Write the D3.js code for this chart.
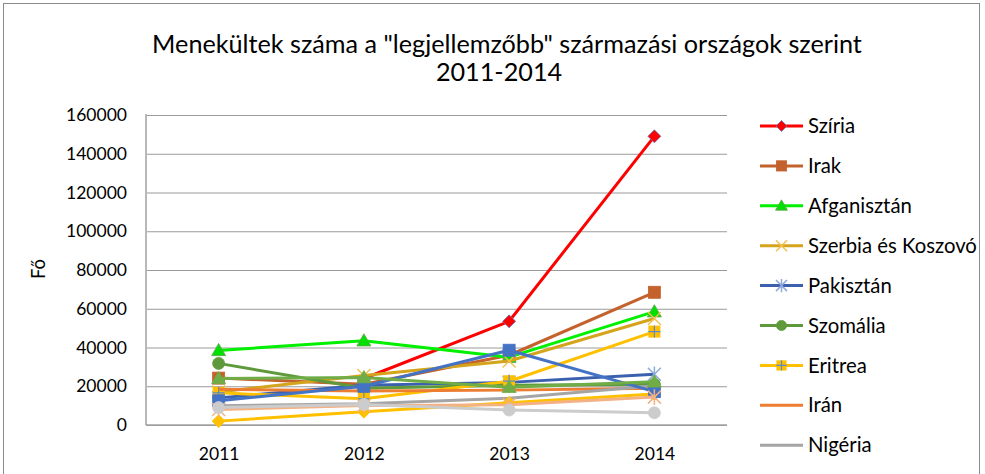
<!DOCTYPE html>
<html>
<head>
<meta charset="utf-8">
<script src="https://cdn.jsdelivr.net/npm/d3@7"></script>
<style>
  html, body { margin: 0; padding: 0; background: #fff; }
  svg { display: block; }
  text { font-family: Lato, "Open Sans", "Liberation Sans", sans-serif; fill: #000; }
</style>
</head>
<body>
<script>
// ---------------- data ----------------
const years = ["2011", "2012", "2013", "2014"];
const yTicks = [0, 20000, 40000, 60000, 80000, 100000, 120000, 140000, 160000];
const titleLines = ['Menekültek száma a "legjellemzőbb" származási országok szerint', "2011-2014"];
const yTitle = "Fő";

const seriesNames = ["Szíria", "Irak", "Afganisztán", "Szerbia és Koszovó", "Pakisztán",
  "Szomália", "Eritrea", "Irán", "Nigéria", "Oroszország", "Albánia", "Mali", "Ukrajna", "Gambia"];
// the legend in the picture is cut off after this many entries
const legendVisibleCount = 9;

const sziria      = [null, 24000, 53500, 149000];
const irak        = [24200, 21000, 36000, 68500];
const afganisztan = [38500, 43500, 35000, 58500];
const szerbia     = [17000, 25500, 33000, 55000];
const pakisztan   = [14000, 20500, 22000, 26200];
const szomalia    = [31800, 19000, 20500, 21000];
const eritrea     = [16600, 13500, 22600, 48200];
const iran        = [18500, 17500, 18000, 19000];
const nigeria     = [10000, 11000, 13800, 20300];
const oroszorszag = [2000, 6900, 11500, 16000];
const albania     = [12500, 20000, 38600, 17200];
const mali        = [24000, 24500, 19500, 22300];
const ukrajna     = [8000, 10000, 10500, 14400];
const gambia      = [9000, 10600, 7700, 6300];

const seriesValues = [sziria, irak, afganisztan, szerbia, pakisztan, szomalia, eritrea,
  iran, nigeria, oroszorszag, albania, mali, ukrajna, gambia];

// ---------------- styles ----------------
const styles = [
  { line: "#FF0000", marker: "diamond", fill: "#FF0000", stroke: "#5B7FC0" },
  { line: "#C4622D", marker: "square", fill: "#C4622D", stroke: "#C4622D" },
  { line: "#00F000", marker: "triangle", fill: "#00E000", stroke: "#6AA050" },
  { line: "#D4A41C", marker: "times", fill: "none", stroke: "#F2C150" },
  { line: "#3A60AE", marker: "asterisk", fill: "none", stroke: "#8EAADC" },
  { line: "#5E9A3C", marker: "circle", fill: "#5E9A3C", stroke: "#5E9A3C" },
  { line: "#FFC000", marker: "plussquare", fill: "#FFC000", stroke: "#5B8AD0" },
  { line: "#ED7D31", marker: "none" },
  { line: "#A5A5A5", marker: "none" },
  { line: "#FFC000", marker: "diamond", fill: "#FFC000", stroke: "#FFC000" },
  { line: "#4472C4", marker: "square", fill: "#4472C4", stroke: "#4472C4" },
  { line: "#70AD47", marker: "triangle", fill: "#70AD47", stroke: "#70AD47" },
  { line: "#F4B183", marker: "asterisk", fill: "none", stroke: "#F4B183" },
  { line: "#CCCCCC", marker: "circle", fill: "#CCCCCC", stroke: "#CCCCCC" }
];

const W = 985, H = 474;
const plot = { left: 146, right: 727, top: 115, bottom: 425 };

const svg = d3.select("body").append("svg").attr("width", W).attr("height", H);

// frame
svg.append("rect").attr("x", 3.5).attr("y", 3.5).attr("width", 976).attr("height", 520)
  .attr("fill", "#fff").attr("stroke", "#8a8a8a").attr("stroke-width", 1);

function fitSize(str, target, base) {
  const t = svg.append("text").attr("font-size", base).text(str);
  const w = t.node().getComputedTextLength();
  t.remove();
  return base * target / w;
}

const x = d3.scalePoint().domain(years).range([plot.left, plot.right]).padding(0.5);
const y = d3.scaleLinear().domain([0, 160000]).range([plot.bottom, plot.top]);

// title
const titleSize = fitSize(titleLines[0], 710, 24);
svg.append("text").attr("x", 507).attr("y", 53).attr("text-anchor", "middle")
  .attr("font-size", titleSize).text(titleLines[0]);
svg.append("text").attr("x", 499).attr("y", 81).attr("text-anchor", "middle")
  .attr("font-size", titleSize).text(titleLines[1]);

// y axis with gridlines
const tickSize = fitSize("160000", 61, 18);
const yAxis = svg.append("g").attr("transform", `translate(${plot.left},0)`)
  .call(d3.axisLeft(y).tickValues(yTicks).tickFormat(d3.format("d"))
    .tickSize(-(plot.right - plot.left)).tickPadding(19));
yAxis.select(".domain").remove();
yAxis.selectAll(".tick line").attr("stroke", "#9a9a9a").attr("stroke-width", 1);
yAxis.selectAll(".tick text").attr("font-size", tickSize).attr("fill", "#000")
  .attr("font-family", 'Lato, "Open Sans", sans-serif');

// axis lines
svg.append("line").attr("x1", plot.left).attr("x2", plot.left)
  .attr("y1", plot.top - 1).attr("y2", plot.bottom)
  .attr("stroke", "#b8b8b8").attr("stroke-width", 2);
svg.append("line").attr("x1", plot.left).attr("x2", plot.right)
  .attr("y1", plot.bottom).attr("y2", plot.bottom)
  .attr("stroke", "#a0a0a0").attr("stroke-width", 1.5);

// x axis
const xAxis = svg.append("g").attr("transform", `translate(0,${plot.bottom})`)
  .call(d3.axisBottom(x).tickSize(0));
xAxis.select(".domain").remove();
xAxis.selectAll(".tick text").attr("y", 35).attr("dy", 0).attr("font-size", tickSize)
  .attr("fill", "#000").attr("font-family", 'Lato, "Open Sans", sans-serif');

// y title
svg.append("text").attr("transform", "translate(45,269) rotate(-90)")
  .attr("text-anchor", "middle").attr("font-size", tickSize * 1.05).text(yTitle);

// marker drawing
function drawMarker(g, type, st, cx, cy, scale) {
  const s = scale || 1;
  if (type === "none") return;
  if (type === "diamond") {
    const r = 6.5 * s;
    g.append("path").attr("d", `M${cx},${cy - r}L${cx + r},${cy}L${cx},${cy + r}L${cx - r},${cy}Z`)
      .attr("fill", st.fill).attr("stroke", st.stroke).attr("stroke-width", 0.8);
  } else if (type === "square") {
    const r = 6 * s;
    g.append("rect").attr("x", cx - r).attr("y", cy - r).attr("width", 2 * r).attr("height", 2 * r)
      .attr("fill", st.fill).attr("stroke", st.stroke).attr("stroke-width", 0.8);
  } else if (type === "plussquare") {
    const r = 6 * s;
    g.append("rect").attr("x", cx - r).attr("y", cy - r).attr("width", 2 * r).attr("height", 2 * r)
      .attr("fill", st.fill);
    g.append("path").attr("d", `M${cx - r},${cy}L${cx + r},${cy}M${cx},${cy - r}L${cx},${cy + r}`)
      .attr("stroke", st.stroke).attr("stroke-width", 1.2);
  } else if (type === "triangle") {
    const r = 7 * s;
    g.append("path").attr("d", `M${cx},${cy - r}L${cx + r},${cy + r * 0.75}L${cx - r},${cy + r * 0.75}Z`)
      .attr("fill", st.fill).attr("stroke", st.stroke).attr("stroke-width", 0.8);
  } else if (type === "circle") {
    g.append("circle").attr("cx", cx).attr("cy", cy).attr("r", 6 * s)
      .attr("fill", st.fill).attr("stroke", st.stroke).attr("stroke-width", 0.8);
  } else if (type === "times") {
    const r = 6.5 * s;
    g.append("path").attr("d", `M${cx - r},${cy - r}L${cx + r},${cy + r}M${cx + r},${cy - r}L${cx - r},${cy + r}`)
      .attr("stroke", st.stroke).attr("stroke-width", 1.5).attr("fill", "none");
  } else if (type === "asterisk") {
    const r = 6.5 * s;
    g.append("path").attr("d", `M${cx - r},${cy - r}L${cx + r},${cy + r}M${cx + r},${cy - r}L${cx - r},${cy + r}M${cx},${cy - r * 1.2}L${cx},${cy + r * 1.2}`)
      .attr("stroke", st.stroke).attr("stroke-width", 1.5).attr("fill", "none");
  }
}

// series
const line = d3.line().defined(d => d != null)
  .x((d, i) => x(years[i])).y(d => y(d));

seriesValues.forEach((vals, si) => {
  const st = styles[si];
  const g = svg.append("g").attr("class", "series");
  g.append("path").datum(vals).attr("d", line).attr("fill", "none")
    .attr("stroke", st.line).attr("stroke-width", 3).attr("stroke-linejoin", "round");
  vals.forEach((v, i) => {
    if (v == null) return;
    drawMarker(g, st.marker, st, x(years[i]), y(v), 1);
  });
});

// legend (only the entries visible in the cropped picture)
const legendSize = fitSize("Szerbia és Koszovó", 169, 18);
seriesNames.slice(0, legendVisibleCount).forEach((name, si) => {
  const st = styles[si];
  const ly = 126 + si * 39.9;
  const g = svg.append("g");
  g.append("line").attr("x1", 760).attr("x2", 803).attr("y1", ly).attr("y2", ly)
    .attr("stroke", st.line).attr("stroke-width", 3);
  drawMarker(g, st.marker, st, 781.5, ly, 0.85);
  g.append("text").attr("x", 808).attr("y", ly).attr("dy", "0.35em")
    .attr("font-size", legendSize).text(name);
});
</script>
</body>
</html>
